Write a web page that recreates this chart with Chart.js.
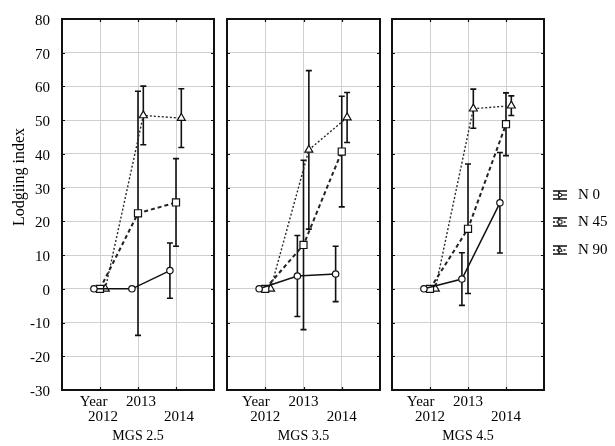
<!DOCTYPE html>
<html>
<head>
<meta charset="utf-8">
<script src="https://cdn.jsdelivr.net/npm/chart.js@4.4.1/dist/chart.umd.min.js"></script>
<style>
html, body { margin: 0; padding: 0; background: #fff; }
#wrap { position: relative; width: 615px; height: 446px; background: #fff; }
#wrap canvas { position: absolute; left: 0; top: 0; }
</style>
</head>
<body>
<div id="wrap">
  <canvas id="c1" width="615" height="446"></canvas>
  <canvas id="c2" width="615" height="446"></canvas>
  <canvas id="c3" width="615" height="446"></canvas>
</div>
<script>
// ---------------- data ----------------
const years = ['2012', '2013', '2014'];
const yearAxisLabel = 'Year';
const panelTitles = ['MGS 2.5', 'MGS 3.5', 'MGS 4.5'];
const seriesNames = ['N 0', 'N 45', 'N 90'];
const yAxisTitle = 'Lodgiing index';
const yTickValues = [-30, -20, -10, 0, 10, 20, 30, 40, 50, 60, 70, 80];

const mgs25N0 = [0, 0, 5.4];
const mgs25N0Err = [0, 0, 8.2];
const mgs25N45 = [0, 22.4, 25.6];
const mgs25N45Err = [0, 36.2, 13.0];
const mgs25N90 = [0, 51.4, 50.6];
const mgs25N90Err = [0, 8.7, 8.7];

const mgs35N0 = [0, 3.8, 4.4];
const mgs35N0Err = [0, 12.0, 8.2];
const mgs35N45 = [0, 13.0, 40.7];
const mgs35N45Err = [0, 25.1, 16.4];
const mgs35N90 = [0, 41.2, 50.8];
const mgs35N90Err = [0, 23.5, 7.4];

const mgs45N0 = [0, 2.9, 25.5];
const mgs45N0Err = [0, 7.8, 14.9];
const mgs45N45 = [0, 17.8, 48.8];
const mgs45N45Err = [0, 19.2, 9.3];
const mgs45N90 = [0, 53.4, 54.3];
const mgs45N90Err = [0, 5.8, 2.9];

// ---------------- styles ----------------
const FONT = '"Liberation Serif", "Times New Roman", serif';
const INK = '#000';
const GRID = '#d0d0d0';
const seriesStyle = [
  { pointStyle: 'circle',   radius: 3.2, dash: [],     width: 1.5, color: '#111', offset: -0.16 },
  { pointStyle: 'rect',     radius: 5,   dash: [4, 3], width: 2,   color: '#222', offset: 0 },
  { pointStyle: 'triangle', radius: 4.6, dash: [2, 2], width: 1.4, color: '#2a2a2a', offset: 0.14 }
];

const panels = [
  { title: panelTitles[0], values: [mgs25N0, mgs25N45, mgs25N90], errors: [mgs25N0Err, mgs25N45Err, mgs25N90Err],
    left: 62, right: 214, yWidth: 62, labelOffset: 3, showY: true, legend: false },
  { title: panelTitles[1], values: [mgs35N0, mgs35N45, mgs35N90], errors: [mgs35N0Err, mgs35N45Err, mgs35N90Err],
    left: 227, right: 380, yWidth: 0, labelOffset: 0, showY: false, legend: false },
  { title: panelTitles[2], values: [mgs45N0, mgs45N45, mgs45N90], errors: [mgs45N0Err, mgs45N45Err, mgs45N90Err],
    left: 392, right: 544, yWidth: 0, labelOffset: 0, showY: false, legend: true }
];

const TOP = 19, BOTTOM = 390, W = 615, H = 446;

// ---------------- plugins ----------------
const errorBarPlugin = {
  id: 'errorBars',
  beforeDatasetsDraw(chart) {
    const ctx = chart.ctx, xs = chart.scales.x, ys = chart.scales.y;
    ctx.save();
    ctx.strokeStyle = '#111';
    ctx.lineWidth = 1.6;
    ctx.setLineDash([]);
    chart.data.datasets.forEach(ds => {
      ds.data.forEach((p, i) => {
        const e = ds.errors[i];
        if (!e) return;
        const px = xs.getPixelForValue(p.x);
        const top = ys.getPixelForValue(p.y + e);
        const bot = ys.getPixelForValue(p.y - e);
        ctx.beginPath();
        ctx.moveTo(px, top); ctx.lineTo(px, bot);
        ctx.moveTo(px - 3, top); ctx.lineTo(px + 3, top);
        ctx.moveTo(px - 3, bot); ctx.lineTo(px + 3, bot);
        ctx.stroke();
      });
    });
    ctx.restore();
  }
};

const framePlugin = {
  id: 'frame',
  afterDraw(chart) {
    const ctx = chart.ctx, a = chart.chartArea, xs = chart.scales.x, ys = chart.scales.y;
    ctx.save();
    ctx.strokeStyle = '#111';
    ctx.setLineDash([]);
    ctx.lineWidth = 1.2;
    ctx.beginPath();
    yTickValues.forEach(v => {
      const py = Math.round(ys.getPixelForValue(v)) + 0.5;
      ctx.moveTo(a.left, py); ctx.lineTo(a.left + 3, py);
      ctx.moveTo(a.right - 3, py); ctx.lineTo(a.right, py);
    });
    [0, 1, 2].forEach(v => {
      const px = Math.round(xs.getPixelForValue(v)) + 0.5;
      ctx.moveTo(px, a.top); ctx.lineTo(px, a.top + 3);
      ctx.moveTo(px, a.bottom - 3); ctx.lineTo(px, a.bottom);
    });
    ctx.stroke();
    ctx.lineWidth = 2;
    ctx.strokeRect(a.left, a.top, a.right - a.left, a.bottom - a.top);
    ctx.restore();
  }
};

const yTitlePlugin = {
  id: 'yTitle',
  afterDraw(chart) {
    const ctx = chart.ctx;
    ctx.save();
    ctx.translate(20, 177);
    ctx.rotate(-Math.PI / 2);
    ctx.font = '16px ' + FONT;
    ctx.fillStyle = INK;
    ctx.textAlign = 'center';
    ctx.textBaseline = 'middle';
    ctx.fillText(yAxisTitle, 0, 0);
    ctx.restore();
  }
};

function drawMarker(ctx, style, x, y) {
  ctx.beginPath();
  const r = style.radius;
  if (style.pointStyle === 'circle') {
    ctx.arc(x, y, r, 0, Math.PI * 2);
  } else if (style.pointStyle === 'rect') {
    const s = r * Math.SQRT1_2;
    ctx.rect(x - s, y - s, 2 * s, 2 * s);
  } else {
    ctx.moveTo(x, y - r);
    ctx.lineTo(x + r * 0.866, y + r * 0.5);
    ctx.lineTo(x - r * 0.866, y + r * 0.5);
    ctx.closePath();
  }
  ctx.fillStyle = '#fff';
  ctx.fill();
  ctx.stroke();
}

const legendPlugin = {
  id: 'customLegend',
  afterDraw(chart) {
    const ctx = chart.ctx;
    const rows = [195, 222, 250];
    ctx.save();
    seriesNames.forEach((name, i) => {
      const st = seriesStyle[i];
      const cx = 560, cy = rows[i];
      ctx.strokeStyle = '#111';
      ctx.lineWidth = 1.6;
      ctx.setLineDash([]);
      ctx.beginPath();
      ctx.moveTo(cx - 7, cy - 4); ctx.lineTo(cx + 7, cy - 4);
      ctx.moveTo(cx - 7, cy + 4); ctx.lineTo(cx + 7, cy + 4);
      ctx.moveTo(cx - 1, cy - 4); ctx.lineTo(cx - 1, cy + 4);
      ctx.stroke();
      ctx.setLineDash(st.dash.length ? [2, 1.5] : []);
      ctx.lineWidth = 1.3;
      ctx.beginPath();
      ctx.moveTo(cx - 7, cy); ctx.lineTo(cx + 7, cy);
      ctx.stroke();
      ctx.setLineDash([]);
      ctx.lineWidth = 1;
      drawMarker(ctx, { pointStyle: st.pointStyle, radius: st.radius * 0.55 }, cx, cy);
      ctx.fillStyle = INK;
      ctx.font = '15px ' + FONT;
      ctx.textAlign = 'left';
      ctx.textBaseline = 'middle';
      ctx.fillText(name, 578, cy + 0.5);
    });
    ctx.restore();
  }
};

// ---------------- charts ----------------
function xLabel(v) {
  if (v === 0) return [yearAxisLabel + '     ', years[0]];
  if (v === 1) return [years[1], ''];
  if (v === 2) return ['', years[2]];
  return '';
}

panels.forEach((pn, k) => {
  const datasets = seriesNames.map((name, s) => {
    const st = seriesStyle[s];
    return {
      label: name,
      data: pn.values[s].map((v, i) => ({ x: i + st.offset, y: v })),
      errors: pn.errors[s],
      borderColor: st.color,
      borderWidth: st.width,
      borderDash: st.dash,
      pointStyle: st.pointStyle,
      pointRadius: st.radius,
      pointBorderColor: '#111',
      pointBorderWidth: 1.2,
      pointBackgroundColor: '#fff',
      tension: 0,
      fill: false
    };
  });
  const plugins = [errorBarPlugin, framePlugin];
  if (pn.showY) plugins.push(yTitlePlugin);
  if (pn.legend) plugins.push(legendPlugin);

  new Chart(document.getElementById('c' + (k + 1)), {
    type: 'line',
    data: { datasets },
    plugins,
    options: {
      responsive: false,
      animation: false,
      devicePixelRatio: 1,
      layout: { padding: { left: pn.left - pn.yWidth, right: W - pn.right, top: TOP, bottom: 0 } },
      plugins: { legend: { display: false }, tooltip: { enabled: false } },
      scales: {
        x: {
          type: 'linear',
          min: -1, max: 3,
          afterBuildTicks: sc => { sc.ticks = [-1, 0, 1, 2, 3].map(v => ({ value: v })); },
          afterFit: sc => { sc.height = H - BOTTOM; sc.paddingLeft = 0; sc.paddingRight = 0; },
          grid: {
            drawTicks: false,
            lineWidth: 1,
            color: c => (c.tick && [0, 1, 2].includes(c.tick.value)) ? GRID : 'rgba(0,0,0,0)'
          },
          border: { display: false },
          ticks: {
            autoSkip: false,
            maxRotation: 0,
            padding: 5,
            labelOffset: pn.labelOffset,
            color: INK,
            font: { family: FONT, size: 15, lineHeight: 0.97 },
            callback: v => xLabel(v)
          },
          title: {
            display: true,
            text: pn.title,
            color: INK,
            font: { family: FONT, size: 14, lineHeight: 1.2 },
            padding: { top: 0, bottom: 1 }
          }
        },
        y: {
          min: -30, max: 80,
          afterBuildTicks: sc => { sc.ticks = yTickValues.map(v => ({ value: v })); },
          afterFit: sc => { sc.width = pn.yWidth; sc.paddingTop = 0; sc.paddingBottom = 0; },
          grid: { drawTicks: false, color: GRID, lineWidth: 1 },
          border: { display: false },
          ticks: {
            display: pn.showY,
            padding: 12,
            labelOffset: 2,
            color: INK,
            font: { family: FONT, size: 15 }
          },
          title: { display: false }
        }
      }
    }
  });
});
</script>
</body>
</html>
